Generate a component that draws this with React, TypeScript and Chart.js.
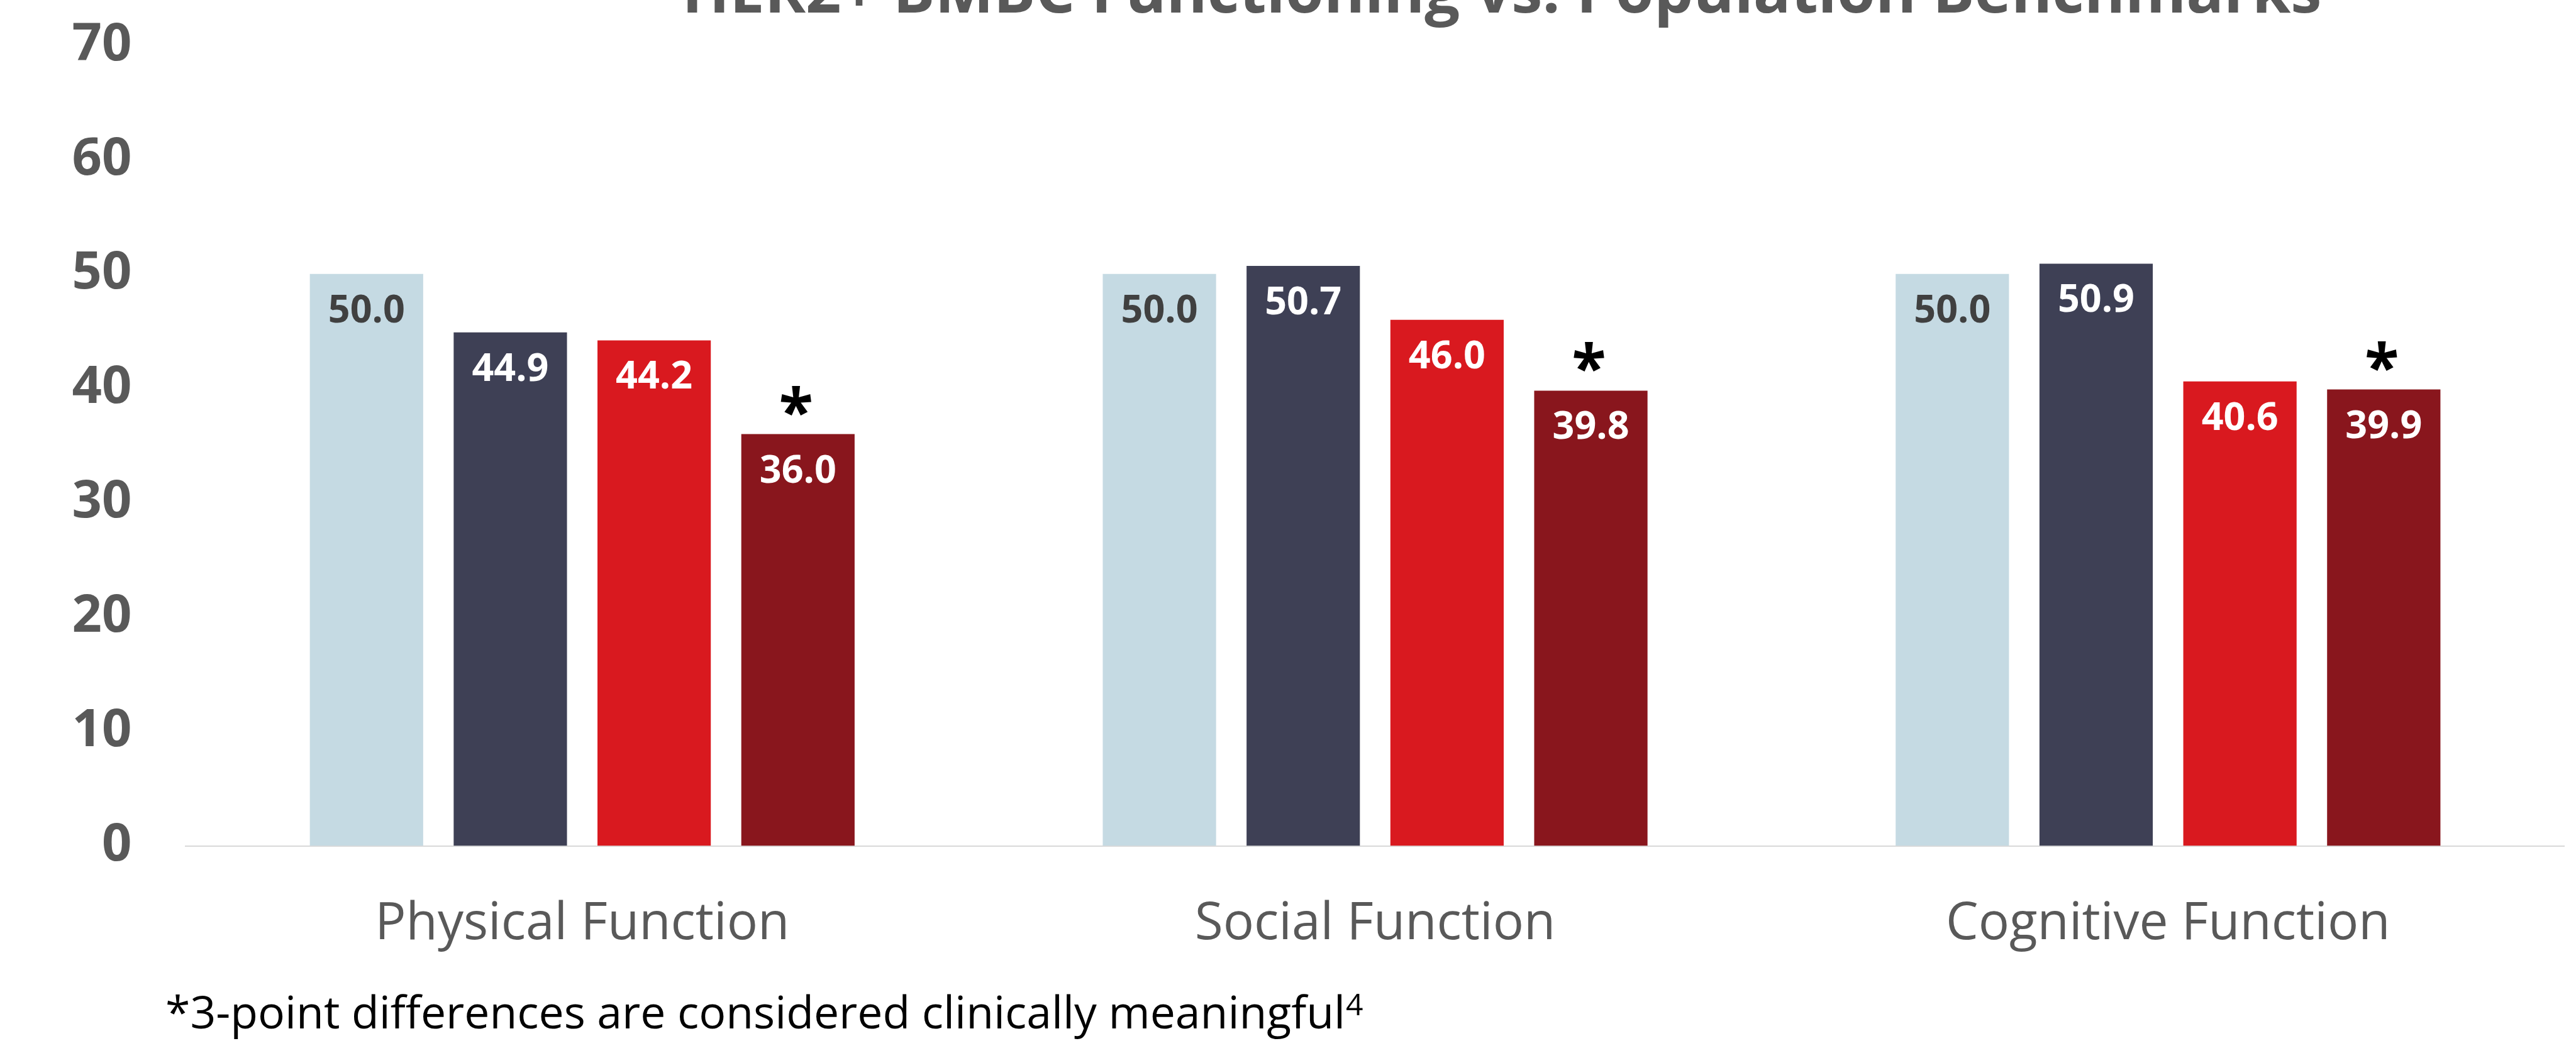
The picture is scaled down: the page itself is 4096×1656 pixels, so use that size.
import React, { useEffect, useRef } from "react";
import { Chart, registerables } from "chart.js";

Chart.register(...registerables);

// ---- data ----
const categories = ["Physical Function", "Social Function", "Cognitive Function"];
const seriesNames = ["Population benchmark", "Cohort A", "Cohort B", "Cohort C"];
const benchmarkValues = [50.0, 50.0, 50.0];
const cohortAValues = [44.9, 50.7, 50.9];
const cohortBValues = [44.2, 46.0, 40.6];
const cohortCValues = [36.0, 39.8, 39.9];
// which bars of each series carry the "clinically meaningful" asterisk
const starredBars = [
  [false, false, false],
  [false, false, false],
  [false, false, false],
  [true, true, true],
];
const yMin = 0;
const yMax = 70;
const yStep = 10;

const titleText = "HER2+ BMBC Functioning vs. Population Benchmarks";
const footnoteText = "*3-point differences are considered clinically meaningful";
const footnoteRef = "4";

// ---- style ----
const W = 4096;
const H = 1656;
const FONT = "'Open Sans', 'Noto Sans', sans-serif";
const GREY = "#595959";
const barColors = ["#C5DAE3", "#3E4055", "#D9191F", "#89161D"];
const labelColors = ["#404040", "#FFFFFF", "#FFFFFF", "#FFFFFF"];

const overlayPlugin = {
  id: "overlay",
  afterDatasetsDraw(chart: any) {
    const ctx = chart.ctx as CanvasRenderingContext2D;
    ctx.save();

    // value labels inside the bars
    chart.data.datasets.forEach((ds: any, di: number) => {
      const meta = chart.getDatasetMeta(di);
      meta.data.forEach((bar: any, i: number) => {
        const v = ds.data[i] as number;
        ctx.font = `bold 61px ${FONT}`;
        ctx.fillStyle = labelColors[di];
        ctx.textAlign = "center";
        ctx.textBaseline = "alphabetic";
        ctx.fillText(v.toFixed(1), bar.x, bar.y + 77);

        if (starredBars[di] && starredBars[di][i]) {
          // asterisk sized by its ink height and set just above the bar
          ctx.font = `bold 100px ${FONT}`;
          const m = ctx.measureText("*");
          const inkH = m.actualBoundingBoxAscent + m.actualBoundingBoxDescent;
          const size = (100 * 48) / inkH;
          ctx.font = `bold ${size}px ${FONT}`;
          const m2 = ctx.measureText("*");
          const inkBottom = bar.y - 29;
          const baseY = inkBottom - m2.actualBoundingBoxDescent;
          ctx.textAlign = "center";
          ctx.fillStyle = "#000000";
          ctx.fillText("*", bar.x - 3, baseY);
        }
      });
    });

    // title (runs off the top edge)
    ctx.font = `bold 99px ${FONT}`;
    ctx.fillStyle = GREY;
    ctx.textAlign = "center";
    ctx.textBaseline = "alphabetic";
    ctx.fillText(titleText, 2388, 20);

    // footnote with superscript reference
    ctx.font = `71.5px ${FONT}`;
    ctx.fillStyle = "#000000";
    ctx.textAlign = "left";
    const fx = 263;
    const fy = 1636;
    ctx.fillText(footnoteText, fx, fy);
    const fw = ctx.measureText(footnoteText).width;
    ctx.font = `48px ${FONT}`;
    ctx.fillText(footnoteRef, fx + fw + 1, fy - 21);

    ctx.restore();
  },
};

export default function App() {
  const canvasRef = useRef<HTMLCanvasElement | null>(null);

  useEffect(() => {
    const canvas = canvasRef.current;
    if (!canvas) return;
    const datasets = [benchmarkValues, cohortAValues, cohortBValues, cohortCValues].map(
      (values, i) => ({
        label: seriesNames[i],
        data: values,
        backgroundColor: barColors[i],
        borderWidth: 0,
        categoryPercentage: 0.7255,
        barPercentage: 0.788,
      })
    );

    const chart = new Chart(canvas, {
      type: "bar",
      data: { labels: categories, datasets },
      options: {
        responsive: false,
        animation: false,
        devicePixelRatio: 1,
        layout: { padding: { top: 72, right: 18.3, bottom: 0, left: 0 } },
        plugins: {
          legend: { display: false },
          title: { display: false },
          tooltip: { enabled: false },
        },
        scales: {
          x: {
            grid: { display: false, drawTicks: false },
            border: { display: true, color: "#D9D9D9", width: 2 },
            ticks: {
              color: GREY,
              font: { family: FONT, size: 82, weight: "normal" },
              padding: 76,
              maxRotation: 0,
              autoSkip: false,
            },
            afterFit: (scale: any) => {
              scale.height = 310.5;
              scale.paddingTop = 0;
              scale.paddingBottom = 0;
            },
          },
          y: {
            min: yMin,
            max: yMax,
            grid: { display: false, drawTicks: false },
            border: { display: false },
            ticks: {
              stepSize: yStep,
              color: GREY,
              font: { family: FONT, size: 83, weight: "bold" },
              padding: 86,
            },
            afterFit: (scale: any) => {
              scale.width = 295.4;
              scale.paddingTop = 0;
              scale.paddingBottom = 0;
            },
          },
        },
      },
      plugins: [overlayPlugin],
    });

    return () => chart.destroy();
  }, []);

  return (
    <div style={{ position: "fixed", left: 0, top: 0, width: W, height: H, background: "#FFFFFF" }}>
      <canvas ref={canvasRef} width={W} height={H} style={{ display: "block", width: W, height: H }} />
    </div>
  );
}
